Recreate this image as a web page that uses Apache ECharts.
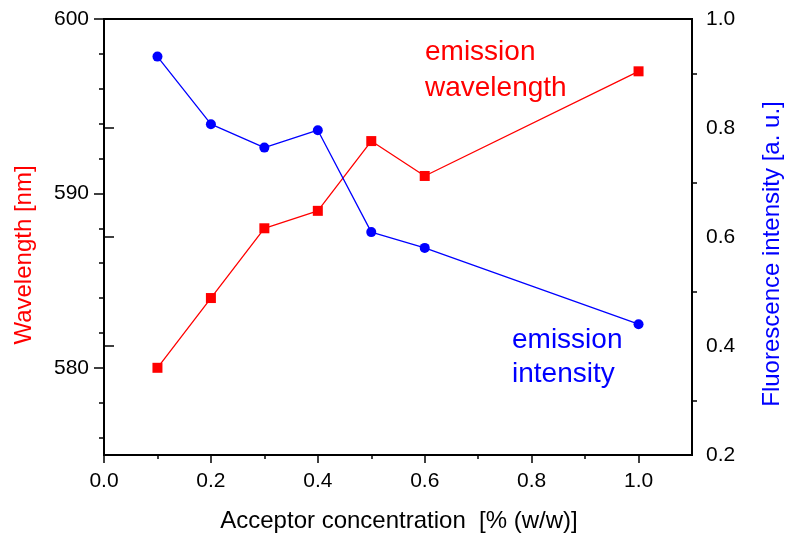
<!DOCTYPE html>
<html>
<head>
<meta charset="utf-8">
<title>Emission wavelength and intensity vs acceptor concentration</title>
<script src="https://cdn.jsdelivr.net/npm/echarts@6/dist/echarts.min.js"></script>
<style>
  html, body { margin: 0; padding: 0; background: #fff; }
  #chart { width: 789px; height: 536px; }
</style>
</head>
<body>
<div id="chart"></div>
<script>
// Acceptor concentration, % (w/w)
const concentration = [0.1, 0.2, 0.3, 0.4, 0.5, 0.6, 1.0];
// Emission wavelength, nm (left axis)
const wavelength = [580, 584, 588, 589, 593, 591, 597];
// Fluorescence intensity, a.u. (right axis)
const intensity = [0.931, 0.807, 0.764, 0.796, 0.609, 0.580, 0.440];

// Tick positions
const xMajorTicks = [0, 0.2, 0.4, 0.6, 0.8, 1.0];
const xMinorTicks = [0.1, 0.3, 0.5, 0.7, 0.9];
const leftMajorTicks = [580, 590, 600];
const leftMinorTicks = [576, 578, 582, 584, 586, 588, 592, 594, 596, 598];
const rightMajorTicks = [0.2, 0.4, 0.6, 0.8, 1.0];
const rightMinorTicks = [0.3, 0.5, 0.7, 0.9];

const FONT = '"Liberation Sans", Arial, Helvetica, sans-serif';
const RED = '#ff0000';
const BLUE = '#0000ff';

const chart = echarts.init(document.getElementById('chart'), null, { renderer: 'canvas' });

const lineStyle = { color: '#000', width: 2 };
const labelStyle = { color: '#000', fontSize: 21, fontFamily: FONT };

// An axis that only draws tick marks at the given values
function tickAxis(min, max, position, values, length) {
  return {
    type: 'value', min, max, position,
    axisLine: { show: false },
    axisLabel: { show: false },
    splitLine: { show: false },
    axisTick: { show: true, length, customValues: values, lineStyle: { color: '#000', width: 1.5 } }
  };
}

const option = {
  animation: false,
  backgroundColor: '#fff',
  grid: {
    left: 104, right: 97, top: 19, bottom: 81,
    show: true, borderColor: '#000', borderWidth: 2, backgroundColor: 'transparent'
  },
  xAxis: [
    {
      type: 'value', min: 0, max: 1.1, position: 'bottom',
      axisLine: { show: true, onZero: false, lineStyle },
      splitLine: { show: false },
      axisTick: { show: false },
      axisLabel: Object.assign({ customValues: xMajorTicks, margin: 16, formatter: v => v.toFixed(1) }, labelStyle)
    },
    tickAxis(0, 1.1, 'bottom', xMajorTicks, 8),
    tickAxis(0, 1.1, 'bottom', xMinorTicks, 4)
  ],
  yAxis: [
    {
      type: 'value', min: 575, max: 600, position: 'left',
      axisLine: { show: true, onZero: false, lineStyle },
      splitLine: { show: false },
      axisTick: { show: false },
      axisLabel: Object.assign({ customValues: leftMajorTicks, margin: 15 }, labelStyle)
    },
    tickAxis(575, 600, 'left', leftMajorTicks, 10),
    tickAxis(575, 600, 'left', leftMinorTicks, 5),
    {
      type: 'value', min: 0.2, max: 1.0, position: 'right',
      axisLine: { show: true, onZero: false, lineStyle },
      splitLine: { show: false },
      axisTick: { show: false },
      axisLabel: Object.assign({ customValues: rightMajorTicks, margin: 14, formatter: v => v.toFixed(1) }, labelStyle)
    },
    tickAxis(0.2, 1.0, 'right', rightMajorTicks, 10),
    tickAxis(0.2, 1.0, 'right', rightMinorTicks, 5)
  ],
  series: [
    {
      name: 'emission wavelength',
      type: 'line',
      xAxisIndex: 0, yAxisIndex: 0,
      data: concentration.map((c, i) => [c, wavelength[i]]),
      symbol: 'rect', symbolSize: 10,
      itemStyle: { color: RED },
      lineStyle: { color: RED, width: 1.3 }
    },
    {
      name: 'emission intensity',
      type: 'line',
      xAxisIndex: 0, yAxisIndex: 3,
      data: concentration.map((c, i) => [c, intensity[i]]),
      symbol: 'circle', symbolSize: 10,
      itemStyle: { color: BLUE },
      lineStyle: { color: BLUE, width: 1.3 }
    }
  ],
  graphic: [
    {
      type: 'text', x: 24, y: 255, rotation: Math.PI / 2,
      style: { text: 'Wavelength [nm]', fill: RED, font: '24px ' + FONT, align: 'center', verticalAlign: 'middle' }
    },
    {
      type: 'text', x: 772, y: 254, rotation: Math.PI / 2,
      style: { text: 'Fluorescence intensity [a. u.]', fill: BLUE, font: '24px ' + FONT, align: 'center', verticalAlign: 'middle' }
    },
    {
      type: 'text', x: 399, y: 521,
      style: { text: 'Acceptor concentration  [% (w/w)]', fill: '#000', font: '24px ' + FONT, align: 'center', verticalAlign: 'middle' }
    },
    {
      type: 'text', x: 425, y: 52,
      style: { text: 'emission', fill: RED, font: '28px ' + FONT, align: 'left', verticalAlign: 'middle' }
    },
    {
      type: 'text', x: 425, y: 88,
      style: { text: 'wavelength', fill: RED, font: '28px ' + FONT, align: 'left', verticalAlign: 'middle' }
    },
    {
      type: 'text', x: 512, y: 340,
      style: { text: 'emission', fill: BLUE, font: '28px ' + FONT, align: 'left', verticalAlign: 'middle' }
    },
    {
      type: 'text', x: 512, y: 374,
      style: { text: 'intensity', fill: BLUE, font: '28px ' + FONT, align: 'left', verticalAlign: 'middle' }
    }
  ]
};

chart.setOption(option);
</script>
</body>
</html>
